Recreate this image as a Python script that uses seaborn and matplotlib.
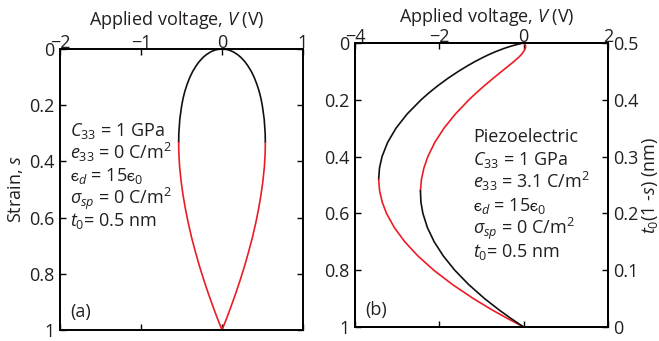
import numpy as np
import pandas as pd
import matplotlib
matplotlib.use("Agg")
import matplotlib.pyplot as plt
import seaborn as sns

# ---- data -------------------------------------------------------------
# (a) purely electrostatic actuator: strain vs applied voltage (two branches)
strain_a = [0, 0.002, 0.005, 0.01, 0.02, 0.03, 0.045, 0.06, 0.08, 0.1,
            0.125, 0.15, 0.175, 0.2, 0.25, 0.3, 0.333, 0.37, 0.42, 0.47,
            0.52, 0.57, 0.62, 0.67, 0.72, 0.77, 0.82, 0.87, 0.92, 0.96, 1.0]
volt_a_pos = [0, 0.062, 0.098, 0.138, 0.193, 0.234, 0.282, 0.320, 0.362,
              0.396, 0.430, 0.458, 0.480, 0.497, 0.521, 0.533, 0.535, 0.533,
              0.523, 0.505, 0.481, 0.451, 0.416, 0.376, 0.330, 0.281, 0.227,
              0.169, 0.107, 0.055, 0]
volt_a_neg = [0, -0.062, -0.098, -0.138, -0.193, -0.234, -0.282, -0.320,
              -0.362, -0.396, -0.430, -0.458, -0.480, -0.497, -0.521, -0.533,
              -0.535, -0.533, -0.523, -0.505, -0.481, -0.451, -0.416, -0.376,
              -0.330, -0.281, -0.227, -0.169, -0.107, -0.055, 0]
pull_in_a = 0.333

# (b) piezoelectric actuator: two solution branches
strain_b = [0, 0.003, 0.006, 0.01, 0.015, 0.02, 0.03, 0.04, 0.05, 0.065,
            0.08, 0.1, 0.125, 0.15, 0.175, 0.2, 0.25, 0.3, 0.35, 0.4, 0.44,
            0.48, 0.52, 0.56, 0.6, 0.65, 0.7, 0.75, 0.8, 0.85, 0.9, 0.94,
            0.97, 1.0]
volt_b_outer = [0, -0.092, -0.175, -0.273, -0.383, -0.482, -0.658, -0.813,
                -0.955, -1.150, -1.329, -1.549, -1.802, -2.032, -2.242,
                -2.433, -2.764, -3.028, -3.226, -3.359, -3.419, -3.439,
                -3.417, -3.355, -3.253, -3.067, -2.819, -2.507, -2.132,
                -1.693, -1.192, -0.746, -0.384, 0]
volt_b_inner = [0, 0.020, 0.035, 0.045, 0.045, 0.035, 0.0, -0.050, -0.115,
                -0.230, -0.354, -0.522, -0.729, -0.929, -1.119, -1.298,
                -1.619, -1.890, -2.108, -2.273, -2.366, -2.424, -2.448,
                -2.437, -2.390, -2.283, -2.122, -1.905, -1.634, -1.308,
                -0.927, -0.582, -0.301, 0]
turn_outer = 0.48
turn_inner = 0.52

strain_ticks = [0, 0.2, 0.4, 0.6, 0.8, 1]
strain_ticklabels = ["0", "0.2", "0.4", "0.6", "0.8", "1"]
volt_ticks_a = [-2, -1, 0, 1]
volt_ticks_b = [-4, -2, 0, 2]
gap_ticks = [0, 0.1, 0.2, 0.3, 0.4, 0.5]
gap_ticklabels = ["0", "0.1", "0.2", "0.3", "0.4", "0.5"]

params_a = [r"$C_{\mathit{33}}$ = 1 GPa",
            r"$e_{\mathit{33}}$ = 0 C/m$^2$",
            r"$\mathrm{ϵ}_d$ = 15$\mathrm{ϵ}_{\mathit{0}}$",
            r"$\sigma_{sp}$ = 0 C/m$^2$",
            r"$t_{\mathit{0}}$= 0.5 nm"]
params_b = ["Piezoelectric",
            r"$C_{\mathit{33}}$ = 1 GPa",
            r"$e_{\mathit{33}}$ = 3.1 C/m$^2$",
            r"$\mathrm{ϵ}_d$ = 15$\mathrm{ϵ}_{\mathit{0}}$",
            r"$\sigma_{sp}$ = 0 C/m$^2$",
            r"$t_{\mathit{0}}$= 0.5 nm"]

# ---- style ------------------------------------------------------------
sns.set_style("white")
plt.rcParams["font.family"] = ["Open Sans", "DejaVu Sans"]
plt.rcParams.update({
    "mathtext.fontset": "custom",
    "mathtext.rm": "Open Sans",
    "mathtext.it": "Open Sans:italic",
    "mathtext.bf": "Open Sans:bold",
    "mathtext.sf": "Open Sans",
    "mathtext.fallback": "stixsans",
    "axes.edgecolor": "black",
    "axes.linewidth": 1.4,
    "text.color": "#231f20",
    "axes.labelcolor": "#231f20",
    "xtick.color": "black",
    "ytick.color": "black",
    "xtick.labelcolor": "#231f20",
    "ytick.labelcolor": "#231f20",
})

RED = "#ec1c24"
BLACK = "#111111"
FS = 13
LW = 1.2

W, H = 659, 341
fig = plt.figure(figsize=(W / 100, H / 100), dpi=100)


def frac(x0, y0, x1, y1):
    """Axes rectangle from pixel edges measured from the top-left corner."""
    return [x0 / W, 1 - y1 / H, (x1 - x0) / W, (y1 - y0) / H]


def branch(ax, s, v, color):
    df = pd.DataFrame({"s": s, "V": v})
    sns.lineplot(data=df, x="V", y="s", sort=False, estimator=None,
                 color=color, lw=LW, ax=ax, legend=False)


def split(s, v, cut, first, second):
    """Split a branch at the turning strain into stable/unstable parts."""
    s = np.asarray(s)
    v = np.asarray(v)
    a = s <= cut + 1e-9
    b = s >= cut - 1e-9
    return (s[a], v[a], first), (s[b], v[b], second)


def style_axes(ax, xticks, xlim, label_x, label_y):
    ax.set_xlim(*xlim)
    ax.set_ylim(1, 0)
    ax.set_xticks(xticks)
    ax.set_yticks(strain_ticks)
    ax.set_yticklabels(strain_ticklabels)
    ax.xaxis.tick_top()
    ax.xaxis.set_label_position("top")
    ax.set_xlabel(r"Applied voltage, $V$ (V)", fontsize=FS)
    ax.xaxis.set_label_coords(label_x, label_y)
    ax.tick_params(axis="both", which="both", direction="in", length=4,
                   width=1.0, labelsize=FS, top=True, bottom=True,
                   labeltop=True, labelbottom=False)
    ax.tick_params(axis="x", pad=-2.5)
    ax.tick_params(axis="y", pad=4)
    for sp in ax.spines.values():
        sp.set_visible(True)
        sp.set_linewidth(1.4)


# ---- panel (a) --------------------------------------------------------
ax_a = fig.add_axes(frac(60, 49, 303, 330))
for v in (volt_a_pos, volt_a_neg):
    for seg in split(strain_a, v, pull_in_a, BLACK, RED):
        branch(ax_a, *seg)
style_axes(ax_a, volt_ticks_a, (-2, 1), 0.479, 1 + 24 / 281)
ax_a.tick_params(axis="y", left=True, right=True)
ax_a.set_ylabel(r"Strain, $s$", fontsize=FS, labelpad=3)

y0 = 136
for i, line in enumerate(params_a):
    fig.text(70 / W, 1 - (y0 + 22.5 * i) / H, line, fontsize=FS,
             va="baseline", ha="left")
fig.text(70 / W, 1 - 312 / H, "(a)", fontsize=FS, va="center", ha="left")

# ---- panel (b) --------------------------------------------------------
ax_b = fig.add_axes(frac(355, 43, 608, 327))
for seg in split(strain_b, volt_b_outer, turn_outer, BLACK, RED):
    branch(ax_b, *seg)
for seg in split(strain_b, volt_b_inner, turn_inner, RED, BLACK):
    branch(ax_b, *seg)
style_axes(ax_b, volt_ticks_b, (-4, 2), 0.522, 1 + 21 / 284)
ax_b.tick_params(axis="y", left=True, right=False)
ax_b.set_ylabel("")

# gap thickness t0(1-s) on the right-hand axis
ax_t = ax_b.twinx()
ax_t.set_ylim(0, 0.5)
ax_t.set_yticks(gap_ticks)
ax_t.set_yticklabels(gap_ticklabels)
ax_t.tick_params(axis="y", direction="in", length=4, width=1.0,
                 labelsize=FS, pad=4, right=True, left=False)
ax_t.set_ylabel(r"$\mathit{t_{0}(1}$ -$\mathit{s)}$ (nm)", fontsize=FS,
                labelpad=1)
for sp in ax_t.spines.values():
    sp.set_linewidth(1.4)

y0 = 142
for i, line in enumerate(params_b):
    fig.text(473 / W, 1 - (y0 + 23 * i) / H, line, fontsize=FS,
             va="baseline", ha="left")
fig.text(365 / W, 1 - 310 / H, "(b)", fontsize=FS, va="center", ha="left")

fig.savefig("out.png", dpi=100)
